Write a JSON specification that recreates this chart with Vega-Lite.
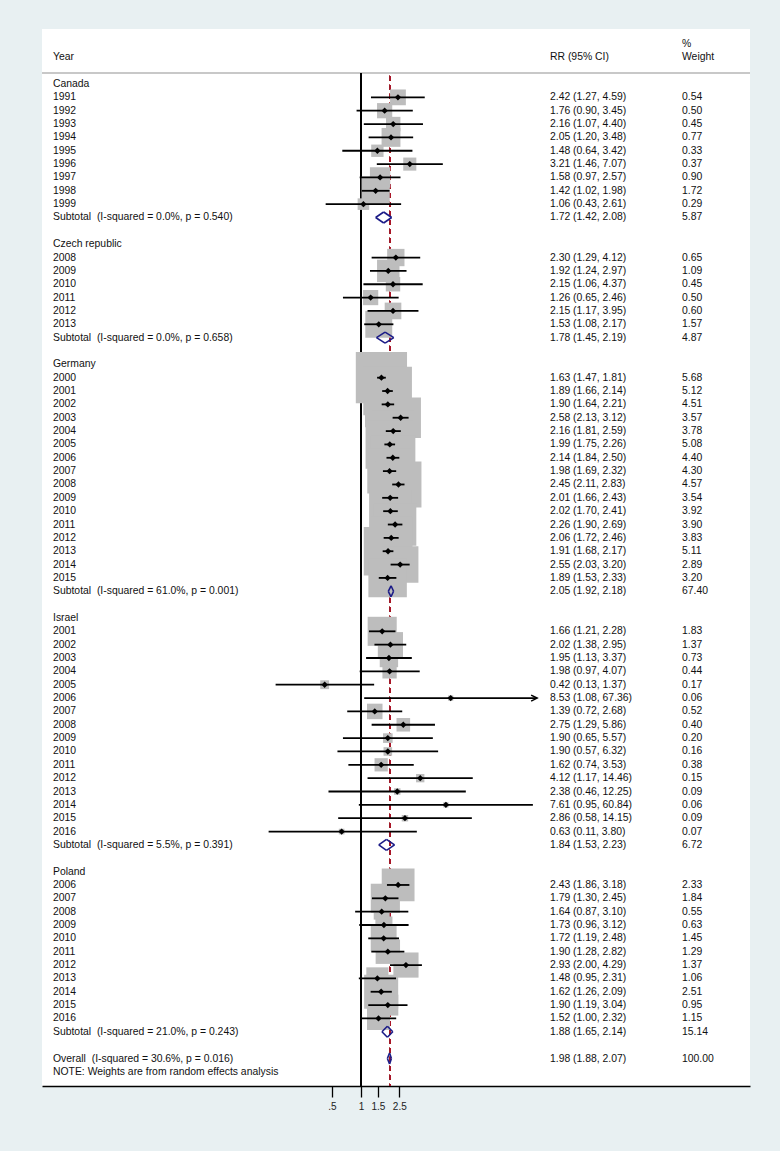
{
  "$schema": "https://vega.github.io/schema/vega-lite/v6.json",
  "width": 708,
  "height": 1057,
  "autosize": {"type": "none"},
  "padding": {"left": 42, "top": 29, "right": 30, "bottom": 65},
  "background": "#e8f0f2",
  "config": {
    "view": {"stroke": null, "fill": "white"},
    "font": "Liberation Sans",
    "axisX": {"grid": false, "domainColor": "#000000", "domainWidth": 1.4, "tickColor": "#000000", "tickWidth": 1.3, "tickSize": 11, "labelFont": "Liberation Sans", "labelFontSize": 10, "labelColor": "#222222", "labelPadding": 4, "labelFlush": false, "labelOverlap": false, "title": null}
  },
  "data": {"values": [
    {"row": -3, "kind": "head", "wtxt": "%"},
    {"row": -2, "kind": "head", "label": "Year", "ci": "RR (95% CI)", "wtxt": "Weight"},
    {"row": 0, "kind": "group", "label": "Canada"},
    {"row": 1, "kind": "study", "label": "1991", "est": 2.42, "lo": 1.27, "hi": 4.59, "w": 0.54, "ci": "2.42 (1.27, 4.59)"},
    {"row": 2, "kind": "study", "label": "1992", "est": 1.76, "lo": 0.90, "hi": 3.45, "w": 0.50, "ci": "1.76 (0.90, 3.45)"},
    {"row": 3, "kind": "study", "label": "1993", "est": 2.16, "lo": 1.07, "hi": 4.40, "w": 0.45, "ci": "2.16 (1.07, 4.40)"},
    {"row": 4, "kind": "study", "label": "1994", "est": 2.05, "lo": 1.20, "hi": 3.48, "w": 0.77, "ci": "2.05 (1.20, 3.48)"},
    {"row": 5, "kind": "study", "label": "1995", "est": 1.48, "lo": 0.64, "hi": 3.42, "w": 0.33, "ci": "1.48 (0.64, 3.42)"},
    {"row": 6, "kind": "study", "label": "1996", "est": 3.21, "lo": 1.46, "hi": 7.07, "w": 0.37, "ci": "3.21 (1.46, 7.07)"},
    {"row": 7, "kind": "study", "label": "1997", "est": 1.58, "lo": 0.97, "hi": 2.57, "w": 0.90, "ci": "1.58 (0.97, 2.57)"},
    {"row": 8, "kind": "study", "label": "1998", "est": 1.42, "lo": 1.02, "hi": 1.98, "w": 1.72, "ci": "1.42 (1.02, 1.98)"},
    {"row": 9, "kind": "study", "label": "1999", "est": 1.06, "lo": 0.43, "hi": 2.61, "w": 0.29, "ci": "1.06 (0.43, 2.61)"},
    {"row": 10, "kind": "sub", "label": "Subtotal \u00a0(I-squared = 0.0%, p = 0.540)", "est": 1.72, "lo": 1.42, "hi": 2.08, "w": 5.87, "ci": "1.72 (1.42, 2.08)"},
    {"row": 12, "kind": "group", "label": "Czech republic"},
    {"row": 13, "kind": "study", "label": "2008", "est": 2.30, "lo": 1.29, "hi": 4.12, "w": 0.65, "ci": "2.30 (1.29, 4.12)"},
    {"row": 14, "kind": "study", "label": "2009", "est": 1.92, "lo": 1.24, "hi": 2.97, "w": 1.09, "ci": "1.92 (1.24, 2.97)"},
    {"row": 15, "kind": "study", "label": "2010", "est": 2.15, "lo": 1.06, "hi": 4.37, "w": 0.45, "ci": "2.15 (1.06, 4.37)"},
    {"row": 16, "kind": "study", "label": "2011", "est": 1.26, "lo": 0.65, "hi": 2.46, "w": 0.50, "ci": "1.26 (0.65, 2.46)"},
    {"row": 17, "kind": "study", "label": "2012", "est": 2.15, "lo": 1.17, "hi": 3.95, "w": 0.60, "ci": "2.15 (1.17, 3.95)"},
    {"row": 18, "kind": "study", "label": "2013", "est": 1.53, "lo": 1.08, "hi": 2.17, "w": 1.57, "ci": "1.53 (1.08, 2.17)"},
    {"row": 19, "kind": "sub", "label": "Subtotal \u00a0(I-squared = 0.0%, p = 0.658)", "est": 1.78, "lo": 1.45, "hi": 2.19, "w": 4.87, "ci": "1.78 (1.45, 2.19)"},
    {"row": 21, "kind": "group", "label": "Germany"},
    {"row": 22, "kind": "study", "label": "2000", "est": 1.63, "lo": 1.47, "hi": 1.81, "w": 5.68, "ci": "1.63 (1.47, 1.81)"},
    {"row": 23, "kind": "study", "label": "2001", "est": 1.89, "lo": 1.66, "hi": 2.14, "w": 5.12, "ci": "1.89 (1.66, 2.14)"},
    {"row": 24, "kind": "study", "label": "2002", "est": 1.90, "lo": 1.64, "hi": 2.21, "w": 4.51, "ci": "1.90 (1.64, 2.21)"},
    {"row": 25, "kind": "study", "label": "2003", "est": 2.58, "lo": 2.13, "hi": 3.12, "w": 3.57, "ci": "2.58 (2.13, 3.12)"},
    {"row": 26, "kind": "study", "label": "2004", "est": 2.16, "lo": 1.81, "hi": 2.59, "w": 3.78, "ci": "2.16 (1.81, 2.59)"},
    {"row": 27, "kind": "study", "label": "2005", "est": 1.99, "lo": 1.75, "hi": 2.26, "w": 5.08, "ci": "1.99 (1.75, 2.26)"},
    {"row": 28, "kind": "study", "label": "2006", "est": 2.14, "lo": 1.84, "hi": 2.50, "w": 4.40, "ci": "2.14 (1.84, 2.50)"},
    {"row": 29, "kind": "study", "label": "2007", "est": 1.98, "lo": 1.69, "hi": 2.32, "w": 4.30, "ci": "1.98 (1.69, 2.32)"},
    {"row": 30, "kind": "study", "label": "2008", "est": 2.45, "lo": 2.11, "hi": 2.83, "w": 4.57, "ci": "2.45 (2.11, 2.83)"},
    {"row": 31, "kind": "study", "label": "2009", "est": 2.01, "lo": 1.66, "hi": 2.43, "w": 3.54, "ci": "2.01 (1.66, 2.43)"},
    {"row": 32, "kind": "study", "label": "2010", "est": 2.02, "lo": 1.70, "hi": 2.41, "w": 3.92, "ci": "2.02 (1.70, 2.41)"},
    {"row": 33, "kind": "study", "label": "2011", "est": 2.26, "lo": 1.90, "hi": 2.69, "w": 3.90, "ci": "2.26 (1.90, 2.69)"},
    {"row": 34, "kind": "study", "label": "2012", "est": 2.06, "lo": 1.72, "hi": 2.46, "w": 3.83, "ci": "2.06 (1.72, 2.46)"},
    {"row": 35, "kind": "study", "label": "2013", "est": 1.91, "lo": 1.68, "hi": 2.17, "w": 5.11, "ci": "1.91 (1.68, 2.17)"},
    {"row": 36, "kind": "study", "label": "2014", "est": 2.55, "lo": 2.03, "hi": 3.20, "w": 2.89, "ci": "2.55 (2.03, 3.20)"},
    {"row": 37, "kind": "study", "label": "2015", "est": 1.89, "lo": 1.53, "hi": 2.33, "w": 3.20, "ci": "1.89 (1.53, 2.33)"},
    {"row": 38, "kind": "sub", "label": "Subtotal \u00a0(I-squared = 61.0%, p = 0.001)", "est": 2.05, "lo": 1.92, "hi": 2.18, "w": 67.40, "ci": "2.05 (1.92, 2.18)"},
    {"row": 40, "kind": "group", "label": "Israel"},
    {"row": 41, "kind": "study", "label": "2001", "est": 1.66, "lo": 1.21, "hi": 2.28, "w": 1.83, "ci": "1.66 (1.21, 2.28)"},
    {"row": 42, "kind": "study", "label": "2002", "est": 2.02, "lo": 1.38, "hi": 2.95, "w": 1.37, "ci": "2.02 (1.38, 2.95)"},
    {"row": 43, "kind": "study", "label": "2003", "est": 1.95, "lo": 1.13, "hi": 3.37, "w": 0.73, "ci": "1.95 (1.13, 3.37)"},
    {"row": 44, "kind": "study", "label": "2004", "est": 1.98, "lo": 0.97, "hi": 4.07, "w": 0.44, "ci": "1.98 (0.97, 4.07)"},
    {"row": 45, "kind": "study", "label": "2005", "est": 0.42, "lo": 0.13, "hi": 1.37, "w": 0.17, "ci": "0.42 (0.13, 1.37)"},
    {"row": 46, "kind": "study", "label": "2006", "est": 8.53, "lo": 1.08, "hi": 67.36, "w": 0.06, "ci": "8.53 (1.08, 67.36)"},
    {"row": 47, "kind": "study", "label": "2007", "est": 1.39, "lo": 0.72, "hi": 2.68, "w": 0.52, "ci": "1.39 (0.72, 2.68)"},
    {"row": 48, "kind": "study", "label": "2008", "est": 2.75, "lo": 1.29, "hi": 5.86, "w": 0.40, "ci": "2.75 (1.29, 5.86)"},
    {"row": 49, "kind": "study", "label": "2009", "est": 1.90, "lo": 0.65, "hi": 5.57, "w": 0.20, "ci": "1.90 (0.65, 5.57)"},
    {"row": 50, "kind": "study", "label": "2010", "est": 1.90, "lo": 0.57, "hi": 6.32, "w": 0.16, "ci": "1.90 (0.57, 6.32)"},
    {"row": 51, "kind": "study", "label": "2011", "est": 1.62, "lo": 0.74, "hi": 3.53, "w": 0.38, "ci": "1.62 (0.74, 3.53)"},
    {"row": 52, "kind": "study", "label": "2012", "est": 4.12, "lo": 1.17, "hi": 14.46, "w": 0.15, "ci": "4.12 (1.17, 14.46)"},
    {"row": 53, "kind": "study", "label": "2013", "est": 2.38, "lo": 0.46, "hi": 12.25, "w": 0.09, "ci": "2.38 (0.46, 12.25)"},
    {"row": 54, "kind": "study", "label": "2014", "est": 7.61, "lo": 0.95, "hi": 60.84, "w": 0.06, "ci": "7.61 (0.95, 60.84)"},
    {"row": 55, "kind": "study", "label": "2015", "est": 2.86, "lo": 0.58, "hi": 14.15, "w": 0.09, "ci": "2.86 (0.58, 14.15)"},
    {"row": 56, "kind": "study", "label": "2016", "est": 0.63, "lo": 0.11, "hi": 3.80, "w": 0.07, "ci": "0.63 (0.11, 3.80)"},
    {"row": 57, "kind": "sub", "label": "Subtotal \u00a0(I-squared = 5.5%, p = 0.391)", "est": 1.84, "lo": 1.53, "hi": 2.23, "w": 6.72, "ci": "1.84 (1.53, 2.23)"},
    {"row": 59, "kind": "group", "label": "Poland"},
    {"row": 60, "kind": "study", "label": "2006", "est": 2.43, "lo": 1.86, "hi": 3.18, "w": 2.33, "ci": "2.43 (1.86, 3.18)"},
    {"row": 61, "kind": "study", "label": "2007", "est": 1.79, "lo": 1.30, "hi": 2.45, "w": 1.84, "ci": "1.79 (1.30, 2.45)"},
    {"row": 62, "kind": "study", "label": "2008", "est": 1.64, "lo": 0.87, "hi": 3.10, "w": 0.55, "ci": "1.64 (0.87, 3.10)"},
    {"row": 63, "kind": "study", "label": "2009", "est": 1.73, "lo": 0.96, "hi": 3.12, "w": 0.63, "ci": "1.73 (0.96, 3.12)"},
    {"row": 64, "kind": "study", "label": "2010", "est": 1.72, "lo": 1.19, "hi": 2.48, "w": 1.45, "ci": "1.72 (1.19, 2.48)"},
    {"row": 65, "kind": "study", "label": "2011", "est": 1.90, "lo": 1.28, "hi": 2.82, "w": 1.29, "ci": "1.90 (1.28, 2.82)"},
    {"row": 66, "kind": "study", "label": "2012", "est": 2.93, "lo": 2.00, "hi": 4.29, "w": 1.37, "ci": "2.93 (2.00, 4.29)"},
    {"row": 67, "kind": "study", "label": "2013", "est": 1.48, "lo": 0.95, "hi": 2.31, "w": 1.06, "ci": "1.48 (0.95, 2.31)"},
    {"row": 68, "kind": "study", "label": "2014", "est": 1.62, "lo": 1.26, "hi": 2.09, "w": 2.51, "ci": "1.62 (1.26, 2.09)"},
    {"row": 69, "kind": "study", "label": "2015", "est": 1.90, "lo": 1.19, "hi": 3.04, "w": 0.95, "ci": "1.90 (1.19, 3.04)"},
    {"row": 70, "kind": "study", "label": "2016", "est": 1.52, "lo": 1.00, "hi": 2.32, "w": 1.15, "ci": "1.52 (1.00, 2.32)"},
    {"row": 71, "kind": "sub", "label": "Subtotal \u00a0(I-squared = 21.0%, p = 0.243)", "est": 1.88, "lo": 1.65, "hi": 2.14, "w": 15.14, "ci": "1.88 (1.65, 2.14)"},
    {"row": 73, "kind": "overall", "label": "Overall \u00a0(I-squared = 30.6%, p = 0.016)", "est": 1.98, "lo": 1.88, "hi": 2.07, "w": 100.00, "ci": "1.98 (1.88, 2.07)"},
    {"row": 74, "kind": "note", "label": "NOTE: Weights are from random effects analysis"}
  ]},
  "layer": [
    {
      "mark": {"type": "rule", "color": "#c8c8c8", "strokeWidth": 2},
      "encoding": {"y": {"datum": -0.82, "type": "quantitative", "scale": {"domain": [-4.12, 75.06], "reverse": true, "nice": false, "zero": false}, "axis": null}}
    },
    {
      "mark": {"type": "rule", "color": "#9e1b2a", "strokeWidth": 1, "strokeDash": [5, 4]},
      "encoding": {
        "x": {"datum": 1.98, "type": "quantitative", "scale": {"type": "log", "domain": [0.000489, 10907], "nice": false}, "axis": {"values": [0.5, 1, 1.5, 2.5], "labelExpr": "datum.value == 0.5 ? '.5' : format(datum.value, '~g')", "title": null}},
        "y": {"datum": -0.6, "type": "quantitative", "scale": {"domain": [-4.12, 75.06], "reverse": true, "nice": false, "zero": false}, "axis": null},
        "y2": {"datum": 75.06}
      }
    },
    {
      "mark": {"type": "rule", "color": "#000000", "strokeWidth": 1.3},
      "encoding": {
        "x": {"datum": 1, "type": "quantitative", "scale": {"type": "log", "domain": [0.000489, 10907], "nice": false}, "axis": {"values": [0.5, 1, 1.5, 2.5], "labelExpr": "datum.value == 0.5 ? '.5' : format(datum.value, '~g')", "title": null}},
        "y": {"datum": -0.82, "type": "quantitative", "scale": {"domain": [-4.12, 75.06], "reverse": true, "nice": false, "zero": false}, "axis": null},
        "y2": {"datum": 75.06}
      }
    },
    {
      "transform": [{"filter": "datum.kind == 'study'"}],
      "mark": {"type": "point", "shape": "square", "filled": true, "color": "#bdbdbd", "opacity": 1, "strokeWidth": 0},
      "encoding": {
        "x": {"field": "est", "type": "quantitative", "scale": {"type": "log", "domain": [0.000489, 10907], "nice": false}, "axis": {"values": [0.5, 1, 1.5, 2.5], "labelExpr": "datum.value == 0.5 ? '.5' : format(datum.value, '~g')", "title": null}},
        "y": {"field": "row", "type": "quantitative", "scale": {"domain": [-4.12, 75.06], "reverse": true, "nice": false, "zero": false}, "axis": null},
        "size": {"field": "w", "type": "quantitative", "scale": {"type": "linear", "domain": [0, 10], "range": [0, 4620], "zero": true}, "legend": null}
      }
    },
    {
      "transform": [{"filter": "datum.kind == 'study'"}],
      "mark": {"type": "rule", "color": "#000000", "strokeWidth": 1.8},
      "encoding": {
        "x": {"field": "lo", "type": "quantitative", "scale": {"type": "log", "domain": [0.000489, 10907], "nice": false}, "axis": {"values": [0.5, 1, 1.5, 2.5], "labelExpr": "datum.value == 0.5 ? '.5' : format(datum.value, '~g')", "title": null}},
        "x2": {"field": "hi"},
        "y": {"field": "row", "type": "quantitative", "scale": {"domain": [-4.12, 75.06], "reverse": true, "nice": false, "zero": false}, "axis": null}
      }
    },
    {
      "transform": [{"filter": "datum.kind == 'study'"}],
      "mark": {"type": "point", "shape": "diamond", "filled": true, "color": "#000000", "opacity": 1, "size": 40},
      "encoding": {
        "x": {"field": "est", "type": "quantitative", "scale": {"type": "log", "domain": [0.000489, 10907], "nice": false}, "axis": {"values": [0.5, 1, 1.5, 2.5], "labelExpr": "datum.value == 0.5 ? '.5' : format(datum.value, '~g')", "title": null}},
        "y": {"field": "row", "type": "quantitative", "scale": {"domain": [-4.12, 75.06], "reverse": true, "nice": false, "zero": false}, "axis": null}
      }
    },
    {
      "transform": [{"filter": "datum.kind == 'study' && datum.hi > 65"}],
      "mark": {"type": "point", "shape": "M-1,-0.5L0,0L-1,0.5", "filled": false, "color": "#000000", "opacity": 1, "size": 144, "strokeWidth": 1.5},
      "encoding": {
        "x": {"field": "hi", "type": "quantitative", "scale": {"type": "log", "domain": [0.000489, 10907], "nice": false}, "axis": {"values": [0.5, 1, 1.5, 2.5], "labelExpr": "datum.value == 0.5 ? '.5' : format(datum.value, '~g')", "title": null}},
        "y": {"field": "row", "type": "quantitative", "scale": {"domain": [-4.12, 75.06], "reverse": true, "nice": false, "zero": false}, "axis": null}
      }
    },
    {
      "transform": [{"filter": "datum.kind == 'sub' || datum.kind == 'overall'"}],
      "mark": {"type": "rule", "color": "#1b1b87", "strokeWidth": 1.6, "y2Offset": -5.5},
      "encoding": {
        "x": {"field": "lo", "type": "quantitative", "scale": {"type": "log", "domain": [0.000489, 10907], "nice": false}, "axis": {"values": [0.5, 1, 1.5, 2.5], "labelExpr": "datum.value == 0.5 ? '.5' : format(datum.value, '~g')", "title": null}},
        "x2": {"field": "est"},
        "y": {"field": "row", "type": "quantitative", "scale": {"domain": [-4.12, 75.06], "reverse": true, "nice": false, "zero": false}, "axis": null},
        "y2": {"field": "row"}
      }
    },
    {
      "transform": [{"filter": "datum.kind == 'sub' || datum.kind == 'overall'"}],
      "mark": {"type": "rule", "color": "#1b1b87", "strokeWidth": 1.6, "y2Offset": 5.5},
      "encoding": {
        "x": {"field": "lo", "type": "quantitative", "scale": {"type": "log", "domain": [0.000489, 10907], "nice": false}, "axis": {"values": [0.5, 1, 1.5, 2.5], "labelExpr": "datum.value == 0.5 ? '.5' : format(datum.value, '~g')", "title": null}},
        "x2": {"field": "est"},
        "y": {"field": "row", "type": "quantitative", "scale": {"domain": [-4.12, 75.06], "reverse": true, "nice": false, "zero": false}, "axis": null},
        "y2": {"field": "row"}
      }
    },
    {
      "transform": [{"filter": "datum.kind == 'sub' || datum.kind == 'overall'"}],
      "mark": {"type": "rule", "color": "#1b1b87", "strokeWidth": 1.6, "yOffset": -5.5},
      "encoding": {
        "x": {"field": "est", "type": "quantitative", "scale": {"type": "log", "domain": [0.000489, 10907], "nice": false}, "axis": {"values": [0.5, 1, 1.5, 2.5], "labelExpr": "datum.value == 0.5 ? '.5' : format(datum.value, '~g')", "title": null}},
        "x2": {"field": "hi"},
        "y": {"field": "row", "type": "quantitative", "scale": {"domain": [-4.12, 75.06], "reverse": true, "nice": false, "zero": false}, "axis": null},
        "y2": {"field": "row"}
      }
    },
    {
      "transform": [{"filter": "datum.kind == 'sub' || datum.kind == 'overall'"}],
      "mark": {"type": "rule", "color": "#1b1b87", "strokeWidth": 1.6, "yOffset": 5.5},
      "encoding": {
        "x": {"field": "est", "type": "quantitative", "scale": {"type": "log", "domain": [0.000489, 10907], "nice": false}, "axis": {"values": [0.5, 1, 1.5, 2.5], "labelExpr": "datum.value == 0.5 ? '.5' : format(datum.value, '~g')", "title": null}},
        "x2": {"field": "hi"},
        "y": {"field": "row", "type": "quantitative", "scale": {"domain": [-4.12, 75.06], "reverse": true, "nice": false, "zero": false}, "axis": null},
        "y2": {"field": "row"}
      }
    },
    {
      "transform": [{"filter": "isValid(datum.label)"}],
      "mark": {"type": "text", "align": "left", "baseline": "middle", "font": "Liberation Sans", "fontSize": 10.4, "color": "#111111"},
      "encoding": {
        "x": {"datum": 0.000636, "type": "quantitative", "scale": {"type": "log", "domain": [0.000489, 10907], "nice": false}, "axis": {"values": [0.5, 1, 1.5, 2.5], "labelExpr": "datum.value == 0.5 ? '.5' : format(datum.value, '~g')", "title": null}},
        "y": {"field": "row", "type": "quantitative", "scale": {"domain": [-4.12, 75.06], "reverse": true, "nice": false, "zero": false}, "axis": null},
        "text": {"field": "label"}
      }
    },
    {
      "transform": [{"filter": "isValid(datum.ci)"}],
      "mark": {"type": "text", "align": "left", "baseline": "middle", "font": "Liberation Sans", "fontSize": 10.4, "color": "#111111"},
      "encoding": {
        "x": {"datum": 91.6, "type": "quantitative", "scale": {"type": "log", "domain": [0.000489, 10907], "nice": false}, "axis": {"values": [0.5, 1, 1.5, 2.5], "labelExpr": "datum.value == 0.5 ? '.5' : format(datum.value, '~g')", "title": null}},
        "y": {"field": "row", "type": "quantitative", "scale": {"domain": [-4.12, 75.06], "reverse": true, "nice": false, "zero": false}, "axis": null},
        "text": {"field": "ci"}
      }
    },
    {
      "transform": [{"filter": "isValid(datum.w)"}],
      "mark": {"type": "text", "align": "left", "baseline": "middle", "font": "Liberation Sans", "fontSize": 10.4, "color": "#111111"},
      "encoding": {
        "x": {"datum": 2147, "type": "quantitative", "scale": {"type": "log", "domain": [0.000489, 10907], "nice": false}, "axis": {"values": [0.5, 1, 1.5, 2.5], "labelExpr": "datum.value == 0.5 ? '.5' : format(datum.value, '~g')", "title": null}},
        "y": {"field": "row", "type": "quantitative", "scale": {"domain": [-4.12, 75.06], "reverse": true, "nice": false, "zero": false}, "axis": null},
        "text": {"field": "w", "type": "quantitative", "format": ".2f"}
      }
    },
    {
      "transform": [{"filter": "isValid(datum.wtxt)"}],
      "mark": {"type": "text", "align": "left", "baseline": "middle", "font": "Liberation Sans", "fontSize": 10.4, "color": "#111111"},
      "encoding": {
        "x": {"datum": 2147, "type": "quantitative", "scale": {"type": "log", "domain": [0.000489, 10907], "nice": false}, "axis": {"values": [0.5, 1, 1.5, 2.5], "labelExpr": "datum.value == 0.5 ? '.5' : format(datum.value, '~g')", "title": null}},
        "y": {"field": "row", "type": "quantitative", "scale": {"domain": [-4.12, 75.06], "reverse": true, "nice": false, "zero": false}, "axis": null},
        "text": {"field": "wtxt"}
      }
    }
  ]
}
